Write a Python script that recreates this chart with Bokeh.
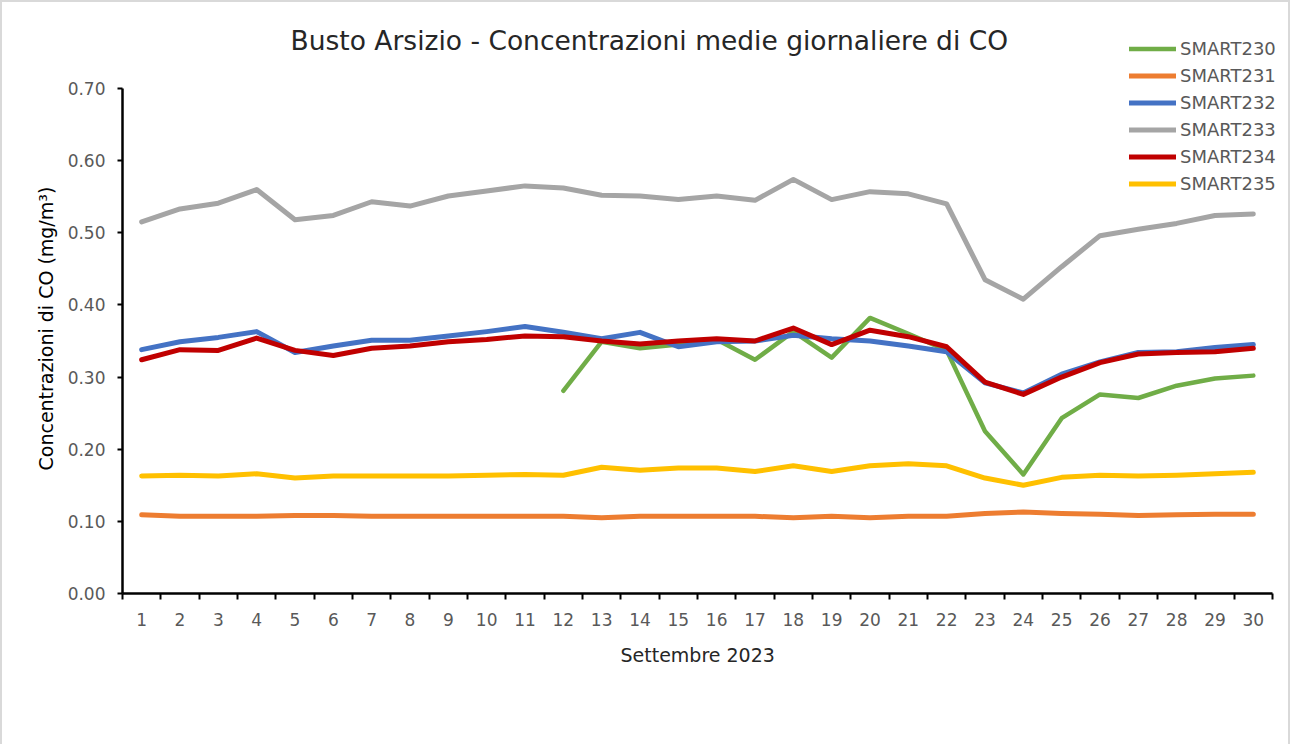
import math
from bokeh.plotting import figure
from bokeh.models import (Range1d, FixedTicker, Legend, LegendItem, Label, Title)
from bokeh.embed import file_html
from bokeh.resources import INLINE

NaN = float("nan")

days = list(range(1, 31))
day_labels = [str(d) for d in days]

smart230 = [NaN] * 11 + [0.281, 0.349, 0.340, 0.345, 0.352, 0.324, 0.363, 0.327, 0.382,
                          0.360, 0.337, 0.225, 0.165, 0.243, 0.276, 0.271, 0.288, 0.298, 0.302]
smart231 = [0.109, 0.107, 0.107, 0.107, 0.108, 0.108, 0.107, 0.107, 0.107, 0.107,
            0.107, 0.107, 0.105, 0.107, 0.107, 0.107, 0.107, 0.105, 0.107, 0.105,
            0.107, 0.107, 0.111, 0.113, 0.111, 0.110, 0.108, 0.109, 0.110, 0.110]
smart232 = [0.338, 0.349, 0.355, 0.363, 0.334, 0.343, 0.351, 0.351, 0.357, 0.363,
            0.370, 0.362, 0.353, 0.362, 0.342, 0.349, 0.350, 0.358, 0.353, 0.350,
            0.343, 0.335, 0.292, 0.278, 0.304, 0.321, 0.334, 0.335, 0.341, 0.345]
smart233 = [0.515, 0.533, 0.541, 0.560, 0.518, 0.524, 0.543, 0.537, 0.551, 0.558,
            0.565, 0.562, 0.552, 0.551, 0.546, 0.551, 0.545, 0.574, 0.546, 0.557,
            0.554, 0.540, 0.435, 0.408, 0.453, 0.496, 0.505, 0.513, 0.524, 0.526]
smart234 = [0.324, 0.338, 0.337, 0.354, 0.337, 0.330, 0.340, 0.343, 0.349, 0.352,
            0.357, 0.356, 0.350, 0.346, 0.350, 0.353, 0.350, 0.368, 0.345, 0.365,
            0.356, 0.342, 0.293, 0.276, 0.300, 0.320, 0.332, 0.334, 0.335, 0.340]
smart235 = [0.163, 0.164, 0.163, 0.166, 0.160, 0.163, 0.163, 0.163, 0.163, 0.164,
            0.165, 0.164, 0.175, 0.171, 0.174, 0.174, 0.169, 0.177, 0.169, 0.177,
            0.180, 0.177, 0.160, 0.150, 0.161, 0.164, 0.163, 0.164, 0.166, 0.168]

series_names = ["SMART230", "SMART231", "SMART232", "SMART233", "SMART234", "SMART235"]
series_values = [smart230, smart231, smart232, smart233, smart234, smart235]
series_colors = ["#70AD47", "#ED7D31", "#4472C4", "#A5A5A5", "#C00000", "#FFC000"]

y_ticks = [0.0, 0.1, 0.2, 0.3, 0.4, 0.5, 0.6, 0.7]
y_tick_labels = ["0.00", "0.10", "0.20", "0.30", "0.40", "0.50", "0.60", "0.70"]

title_text = "Busto Arsizio - Concentrazioni  medie giornaliere di CO"
x_title = "Settembre 2023"
y_title = "Concentrazioni di CO (mg/m³)"

FONT = "DejaVu Sans"

# layout (pixels)
W, H = 1290, 744
ML, MB = 120, 153
axis_w_px = 1150   # pixel width of the 30 categories
axis_h_px = 505    # pixel height of 0..0.70
frame_w = W - ML
frame_h = H - MB
x_lo = 0.5
x_hi = x_lo + 30 * frame_w / axis_w_px
y_hi = 0.70 * frame_h / axis_h_px

p = figure(width=W, height=H, output_backend="svg", toolbar_location=None,
           x_range=Range1d(x_lo, x_hi), y_range=Range1d(0, y_hi),
           min_border_left=ML, min_border_right=0, min_border_top=0,
           min_border_bottom=MB,
           styles={"border-top": "2px solid #D9D9D9", "border-left": "2px solid #D9D9D9",
                   "border-right": "2px solid #D9D9D9"})
p.outline_line_color = None
p.grid.visible = False
p.background_fill_color = "white"
p.border_fill_color = "white"

renderers = []
for name, vals, col in zip(series_names, series_values, series_colors):
    lw = 4.5 if name == "SMART230" else 5
    r = p.line(days, vals, line_color=col, line_width=lw,
               line_join="round", line_cap="round")
    renderers.append(r)

# x axis
xa = p.xaxis[0]
xa.bounds = (0.5, 30.5)
xa.ticker = FixedTicker(ticks=days, minor_ticks=[d - 0.5 for d in days] + [30.5])
xa.major_label_overrides = {d: lab for d, lab in zip(days, day_labels)}
xa.major_tick_line_color = None
xa.major_tick_out = 0
xa.major_tick_in = 0
xa.minor_tick_line_color = "black"
xa.minor_tick_line_width = 2
xa.minor_tick_out = 6
xa.minor_tick_in = 0
xa.axis_line_width = 2.5
xa.axis_line_color = "black"
xa.major_label_text_font = FONT
xa.major_label_text_font_size = "17px"
xa.major_label_text_color = "#595959"
xa.major_label_standoff = 13

ya = p.yaxis[0]
ya.bounds = (0, 0.70)
ya.ticker = FixedTicker(ticks=y_ticks, minor_ticks=[])
ya.major_label_overrides = {t: lab for t, lab in zip(y_ticks, y_tick_labels)}
ya.major_tick_line_color = "black"
ya.major_tick_line_width = 2
ya.major_tick_out = 5
ya.major_tick_in = 0
ya.minor_tick_line_color = None
ya.axis_line_width = 2.5
ya.axis_line_color = "black"
ya.major_label_text_font = FONT
ya.major_label_text_font_size = "17px"
ya.major_label_text_color = "#595959"
ya.major_label_standoff = 12

# axis titles as side-panel titles so they centre on the axis extent, not the frame
xt = Title(text=x_title, align="left", offset=498, standoff=26,
           text_font=FONT, text_font_size="19px", text_font_style="normal",
           text_color="#262626")
p.add_layout(xt, "below")
yt = Title(text=y_title, align="left", offset=123, standoff=16,
           text_font=FONT, text_font_size="19px", text_font_style="normal",
           text_color="black")
p.add_layout(yt, "left")

items = [LegendItem(label=n, renderers=[r]) for n, r in zip(series_names, renderers)]
legend = Legend(items=items, location=(1007, 396), orientation="vertical",
                glyph_width=47, glyph_height=27, label_height=27, spacing=0,
                padding=0, margin=0, label_standoff=4,
                border_line_color=None, background_fill_alpha=0,
                label_text_font=FONT, label_text_font_size="18px",
                label_text_color="#595959")
p.add_layout(legend, "center")

title = Label(x=531, y=553, x_units="screen", y_units="screen", text=title_text,
              text_align="center", text_baseline="middle",
              text_font=FONT, text_font_size="26.5px", text_color="#262626")
p.add_layout(title)

open("out.html", "w").write(file_html(p, INLINE))
